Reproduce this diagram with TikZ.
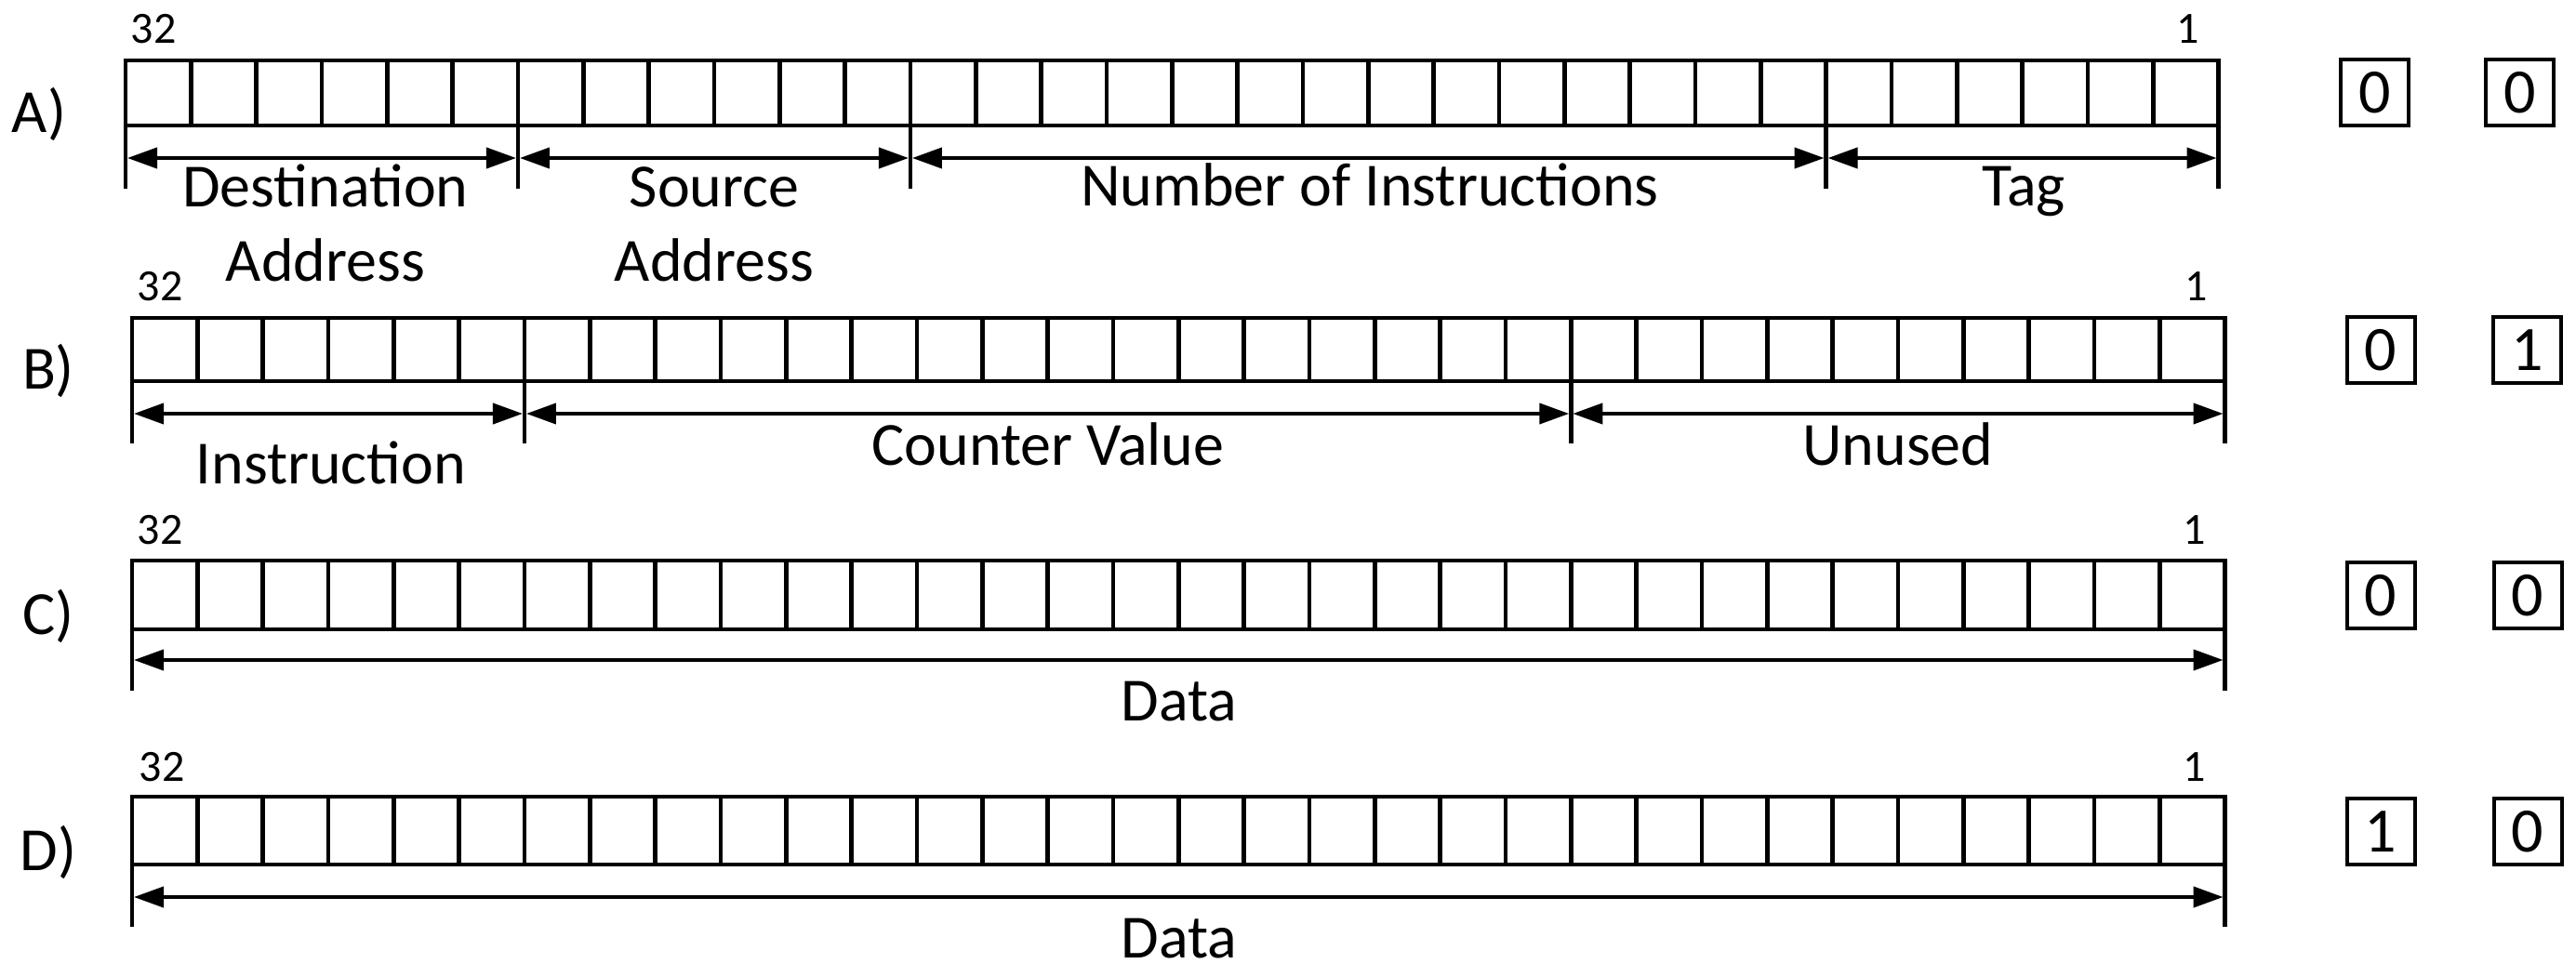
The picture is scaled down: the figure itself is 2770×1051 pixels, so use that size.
\documentclass[tikz,border=0pt]{standalone}
\usepackage{fontspec}
\setmainfont{Carlito}
\usetikzlibrary{arrows.meta}
\tikzset{
  regline/.style={line width=4.5pt, line join=miter},
  cellline/.style={line width=4.5pt},
  dimarrow/.style={line width=4pt, {Triangle[length=32pt,width=22pt]}-{Triangle[length=32pt,width=22pt]}, shorten <=2pt, shorten >=2pt},
  fieldlabel/.style={font=\fontsize{66}{80}\selectfont, anchor=base, inner sep=0pt, align=center},
  numlabel/.style={font=\fontsize{48}{58}\selectfont, anchor=base, inner sep=0pt},
  rowlabel/.style={font=\fontsize{66}{80}\selectfont, anchor=base, inner sep=0pt},
  flagbox/.style={draw, line width=4pt, minimum width=73pt, minimum height=71pt, inner sep=0pt, font=\fontsize{68}{80}\selectfont},
}
\def\cw{70.33}
% #1 id, #2 x0, #3 ytop, #4 ybot, #5 ytick, #6 yarrow, #7 boundaries
\newcommand\regrow[7]{%
  \draw[regline] (#2,#3) rectangle (#2+32*\cw,#4);
  \foreach \i in {1,...,31} \draw[cellline] (#2+\i*\cw,#3) -- (#2+\i*\cw,#4);
  \foreach \b in {#7} {%
    \coordinate (#1\b) at (#2+\b*\cw,#6);
    \draw[cellline] (#2+\b*\cw,#4) -- (#2+\b*\cw,#5);
  }%
}
\begin{document}
\begin{tikzpicture}[x=1pt,y=-1pt]
\useasboundingbox (0,0) rectangle (2770,1051);

% ---------- Row A ----------
\node[rowlabel] (labA) at (42,143) {A)};
\regrow{A}{135}{65}{135}{203}{170}{0,6,12,26,32}
\node[numlabel] (hiA) at (165,47) {32};
\node[numlabel] (loA) at (2353,47) {1};
\draw[dimarrow] (A0) -- (A6);
\draw[dimarrow] (A6) -- (A12);
\draw[dimarrow] (A12) -- (A26);
\draw[dimarrow] (A26) -- (A32);
\node[fieldlabel] (fA1) at (350,302) {Destination\\Address};
\node[fieldlabel] (fA2) at (768,302) {Source\\Address};
\node[fieldlabel] (fA3) at (1473,222) {Number of Instructions};
\node[fieldlabel] (fA4) at (2176,222) {Tag};
\node[flagbox] (bA1) at (2553.5,100) {0};
\node[flagbox] (bA2) at (2709.5,100) {0};

% ---------- Row B ----------
\node[rowlabel] (labB) at (52,418) {B)};
\regrow{B}{142}{342}{410}{477}{445}{0,6,22,32}
\node[numlabel] (hiB) at (172,323) {32};
\node[numlabel] (loB) at (2362,323) {1};
\draw[dimarrow] (B0) -- (B6);
\draw[dimarrow] (B6) -- (B22);
\draw[dimarrow] (B22) -- (B32);
\node[fieldlabel] (fB1) at (356,520) {Instruction};
\node[fieldlabel] (fB2) at (1127,500) {Counter Value};
\node[fieldlabel] (fB3) at (2041,500) {Unused};
\node[flagbox] (bB1) at (2560,376.5) {0};
\node[flagbox] (bB2) at (2717.5,376.5) {1};

% ---------- Row C ----------
\node[rowlabel] (labC) at (52,682) {C)};
\regrow{C}{142}{603}{677}{743}{710}{0,32}
\node[numlabel] (hiC) at (172,585) {32};
\node[numlabel] (loC) at (2360,585) {1};
\draw[dimarrow] (C0) -- (C32);
\node[fieldlabel] (fC1) at (1268,775) {Data};
\node[flagbox] (bC1) at (2560,640.5) {0};
\node[flagbox] (bC2) at (2718,640.5) {0};

% ---------- Row D ----------
\node[rowlabel] (labD) at (52,936) {D)};
\regrow{D}{142}{857}{930}{997}{965}{0,32}
\node[numlabel] (hiD) at (174,840) {32};
\node[numlabel] (loD) at (2360,840) {1};
\draw[dimarrow] (D0) -- (D32);
\node[fieldlabel] (fD1) at (1268,1030) {Data};
\node[flagbox] (bD1) at (2560,894.5) {1};
\node[flagbox] (bD2) at (2718,894.5) {0};
\end{tikzpicture}
\end{document}
